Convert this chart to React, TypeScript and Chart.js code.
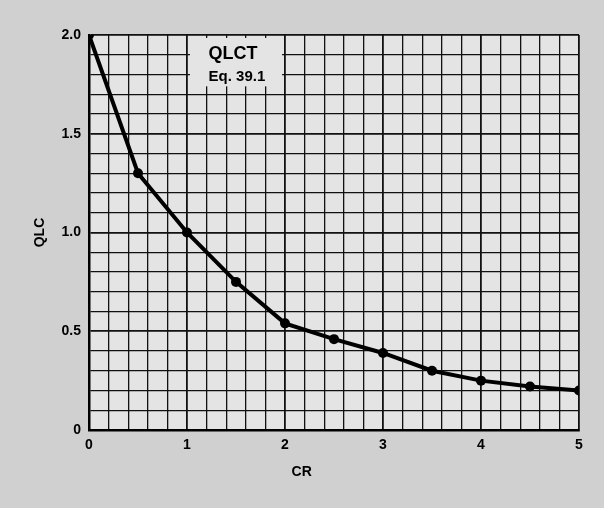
import { useEffect, useRef } from "react";
import { Chart, registerables } from "chart.js";

Chart.register(...registerables);

const crValues = [0, 0.5, 1, 1.5, 2, 2.5, 3, 3.5, 4, 4.5, 5];
const qlcValues = [2.0, 1.3, 1.0, 0.75, 0.54, 0.46, 0.39, 0.3, 0.25, 0.22, 0.2];
const xTickLabels = ["0", "1", "2", "3", "4", "5"];
const yTickLabels = ["0", "0.5", "1.0", "1.5", "2.0"];
const curveLabel = "QLCT";
const equationLabel = "Eq. 39.1";
const xTitle = "CR";
const yTitle = "QLC";

const FONT = "'Liberation Sans', Arial, Helvetica, sans-serif";
const OUTER_BG = "#d0d0d0";
const INNER_BG = "#e4e4e4";

const near = (v: number, step: number) => Math.abs(v / step - Math.round(v / step)) < 1e-6;

export default function App() {
  const canvasRef = useRef<HTMLCanvasElement | null>(null);

  useEffect(() => {
    document.body.style.margin = "0";
    const canvas = canvasRef.current;
    if (!canvas) return;

    const decor = {
      id: "decor",
      beforeDraw(chart: any) {
        const { ctx, chartArea } = chart;
        ctx.save();
        ctx.fillStyle = OUTER_BG;
        ctx.fillRect(0, 0, chart.width, chart.height);
        ctx.fillStyle = INNER_BG;
        ctx.fillRect(chartArea.left, chartArea.top, chartArea.right - chartArea.left, chartArea.bottom - chartArea.top);
        ctx.restore();
      },
      afterDatasetsDraw(chart: any) {
        const { ctx } = chart;
        const xs = chart.scales.x;
        const ys = chart.scales.y;
        ctx.save();
        // label box hiding grid lines
        const bx0 = xs.getPixelForValue(1.03);
        const bx1 = xs.getPixelForValue(1.97);
        const by0 = ys.getPixelForValue(1.985);
        const by1 = ys.getPixelForValue(1.74);
        ctx.fillStyle = INNER_BG;
        ctx.fillRect(bx0, by0, bx1 - bx0, by1 - by0);
        ctx.fillStyle = "#000";
        ctx.textBaseline = "middle";
        ctx.textAlign = "left";
        ctx.font = `bold 18px ${FONT}`;
        ctx.fillText(curveLabel, xs.getPixelForValue(1.22), ys.getPixelForValue(1.905));
        ctx.font = `bold 15px ${FONT}`;
        ctx.fillText(equationLabel, xs.getPixelForValue(1.22), ys.getPixelForValue(1.79));
        // axis titles
        ctx.font = `bold 14px ${FONT}`;
        ctx.textAlign = "center";
        ctx.fillText(xTitle, xs.getPixelForValue(2.17), 472);
        ctx.translate(40, ys.getPixelForValue(1.0));
        ctx.rotate(-Math.PI / 2);
        ctx.fillText(yTitle, 0, 0);
        ctx.restore();
      },
    };

    const chart = new Chart(canvas, {
      type: "line",
      data: {
        datasets: [
          {
            label: curveLabel,
            data: crValues.map((x, i) => ({ x, y: qlcValues[i] })),
            borderColor: "#000",
            backgroundColor: "#000",
            borderWidth: 4,
            pointRadius: 5,
            pointBackgroundColor: "#000",
            pointBorderWidth: 0,
            tension: 0,
          },
        ],
      },
      options: {
        responsive: false,
        animation: false,
        layout: { padding: { left: 0, right: 25, top: 35, bottom: 0 } },
        plugins: { legend: { display: false }, tooltip: { enabled: false }, title: { display: false } },
        scales: {
          x: {
            type: "linear",
            min: 0,
            max: 5,
            afterFit: (s: any) => {
              s.height = 78;
            },
            border: { display: true, color: "#000", width: 2.5 },
            grid: {
              color: "#111",
              drawTicks: false,
              lineWidth: (c: any) => (c.tick && near(c.tick.value, 1) ? 1.8 : 1.3),
            },
            ticks: {
              stepSize: 0.2,
              padding: 7,
              color: "#000",
              font: { family: FONT, size: 14, weight: "bold" },
              maxRotation: 0,
              autoSkip: false,
              callback: (v: any) => {
                const n = Number(v);
                return near(n, 1) ? xTickLabels[Math.round(n)] : "";
              },
            },
          },
          y: {
            type: "linear",
            min: 0,
            max: 2,
            afterFit: (s: any) => {
              s.width = 89;
            },
            border: { display: true, color: "#000", width: 2.5 },
            grid: {
              color: "#111",
              drawTicks: false,
              lineWidth: (c: any) => (c.tick && near(c.tick.value, 0.5) ? 1.8 : 1.3),
            },
            ticks: {
              stepSize: 0.1,
              padding: 8,
              color: "#000",
              font: { family: FONT, size: 14, weight: "bold" },
              autoSkip: false,
              callback: (v: any) => {
                const n = Number(v);
                return near(n, 0.5) ? yTickLabels[Math.round(n * 2)] : "";
              },
            },
          },
        },
      },
      plugins: [decor],
    } as any);

    return () => chart.destroy();
  }, []);

  return <canvas ref={canvasRef} width={604} height={508} style={{ display: "block" }} />;
}
